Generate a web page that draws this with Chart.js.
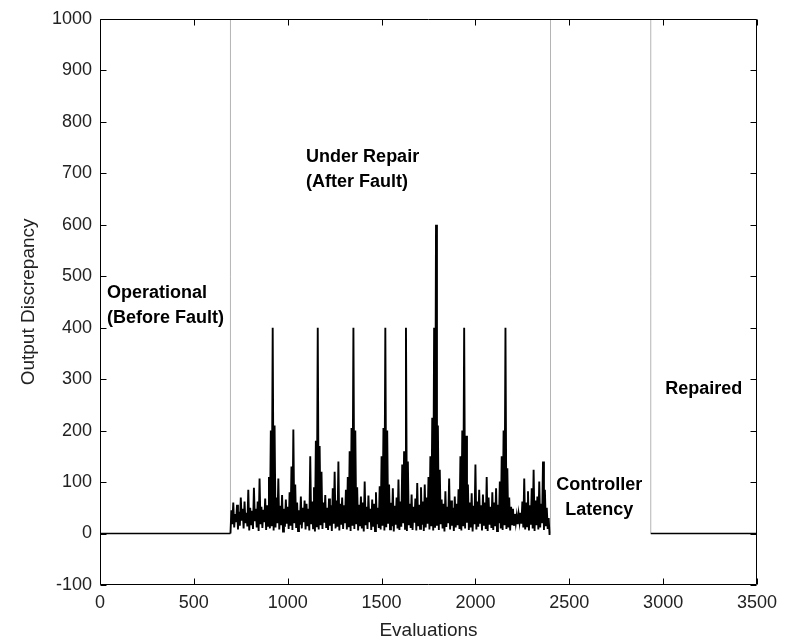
<!DOCTYPE html>
<html>
<head>
<meta charset="utf-8">
<script src="https://cdn.jsdelivr.net/npm/chart.js@4.4.1/dist/chart.umd.min.js"></script>
<style>
body { margin: 0; background: #fff; }
canvas { display: block; }
</style>
</head>
<body>
<canvas id="lineChart" width="790" height="642"></canvas>
<script>
// evaluations where the phases change
var faultAt = 695
var repairStart = 700
var binWidth = 10
var latencyAt = 2400
var repairedAt = 2934
var lastEval = 3500
var phaseBounds = [faultAt, latencyAt, repairedAt]

// under repair: per 10 evaluations, the high then the low discrepancy
var repairHigh = [
  45, 60, 38, 56, 42, 70, 48, 62, 40, 85,
  50, 44, 89, 48, 62, 107, 52, 46, 68, 55,
  110, 200, 400, 210, 70, 107, 54, 75, 48, 66,
  52, 80, 130, 202, 95, 60, 45, 72, 50, 64,
  58, 48, 150, 62, 90, 180, 400, 170, 120, 60,
  75, 50, 68, 55, 88, 120, 64, 140, 58, 70,
  55, 85, 110, 160, 205, 400, 200, 90, 56, 72,
  60, 101, 52, 74, 48, 66, 58, 80, 50, 92,
  150, 205, 400, 200, 95, 60, 88, 54, 70, 105,
  62, 134, 160, 400, 140, 58, 76, 52, 68, 98,
  56, 90, 62, 95, 70, 110, 150, 225, 400, 600,
  210, 124, 66, 58, 82, 52, 107, 64, 50, 72,
  58, 86, 150, 200, 400, 190, 95, 60, 78, 54,
  134, 62, 85, 55, 76, 60, 110, 70, 52, 80,
  60, 88, 56, 101, 150, 200, 400, 127, 70, 52,
  48, 38, 35, 38, 40, 62, 107, 60, 82, 55,
  88, 124, 64, 72, 101, 58, 140, 85, 50, 30
]
var repairLow = [
  18, 12, 22, 8, 15, 25, 10, 20, 14, 6,
  16, 9, 24, 12, 5, 18, 11, 22, 7, 15,
  10, 14, 6, 12, 20, 8, 16, 4, 13, 19,
  9, 15, 7, 20, 11, 5, 17, 10, 22, 8,
  14, 6, 18, 10, 4, 12, 8, 16, 9, 21,
  11, 7, 15, 5, 19, 10, 13, 6, 17, 9,
  20, 8, 12, 5, 15, 9, 18, 6, 14, 10,
  4, 16, 9, 22, 7, 13, 5, 18, 11, 8,
  15, 6, 12, 19, 8, 14, 4, 17, 10, 7,
  13, 20, 9, 5, 16, 11, 7, 21, 6, 14,
  9, 17, 5, 12, 19, 8, 14, 6, 11, 15,
  7, 18, 10, 4, 13, 20, 8, 15, 5, 12,
  16, 9, 6, 14, 10, 21, 7, 12, 4, 18,
  8, 13, 19, 6, 15, 9, 5, 17, 11, 7,
  14, 5, 20, 10, 7, 16, 9, 12, 6, 18,
  15, 20, 18, 22, 19, 12, 8, 14, 6, 17,
  10, 5, 16, 8, 12, 20, 7, 14, 9, -3
]

var yMin = -100
var yMax = 1000
var yStep = 100
var xStep = 500

// text notes, placed in data units
var notes = [
  { lines: ["Operational", "(Before Fault)"], x: 37, y: 468, align: "left" },
  { lines: ["Under Repair", "(After Fault)"], x: 1098, y: 732, align: "left" },
  { lines: ["Controller", "Latency"], x: 2660, y: 95, align: "center" },
  { lines: ["Repaired"], x: 3011, y: 280, align: "left" }
]

// build the points
var beforePts = [{ x: 0, y: 0 }, { x: faultAt, y: 0 }]
var repairPts = [{ x: faultAt, y: 0 }]
for (var i = 0; i < repairHigh.length; i++) {
  repairPts.push({ x: repairStart + i * binWidth, y: repairHigh[i] })
  repairPts.push({ x: repairStart + i * binWidth + binWidth / 2, y: repairLow[i] })
}
var afterPts = [{ x: repairedAt, y: 0 }, { x: lastEval, y: 0 }]

var datasets = [
  { data: repairPts, borderColor: "#000", borderWidth: 1.9 },
  { data: beforePts, borderColor: "#000", borderWidth: 1.5 },
  { data: afterPts, borderColor: "#000", borderWidth: 1.5 }
]
phaseBounds.forEach(function (b) {
  datasets.push({ data: [{ x: b, y: 0 }, { x: b, y: yMax }], borderColor: "#b4b4b4", borderWidth: 1 })
})
datasets.forEach(function (d) {
  d.showLine = true
  d.pointRadius = 0
  d.fill = false
  d.tension = 0
})

// matlab style box with inward ticks
var boxPlugin = {
  id: "boxPlugin",
  afterDatasetsDraw: function (chart) {
    var c = chart.ctx
    var a = chart.chartArea
    var xs = chart.scales.x
    var ys = chart.scales.y
    var L = Math.round(a.left) + 0.5, R = Math.round(a.right) - 0.5
    var T = Math.round(a.top) + 0.5, B = Math.round(a.bottom) - 0.5
    c.save()
    c.strokeStyle = "#000"
    c.lineWidth = 1
    c.beginPath()
    c.rect(L, T, R - L, B - T)
    xs.ticks.forEach(function (t) {
      var px = Math.round(xs.getPixelForValue(t.value)) + 0.5
      c.moveTo(px, B); c.lineTo(px, B - 6)
      c.moveTo(px, T); c.lineTo(px, T + 6)
    })
    ys.ticks.forEach(function (t) {
      var py = Math.round(ys.getPixelForValue(t.value)) + 0.5
      c.moveTo(L, py); c.lineTo(L + 6, py)
      c.moveTo(R, py); c.lineTo(R - 6, py)
    })
    c.stroke()

    c.fillStyle = "#000"
    c.font = "bold 18px 'Liberation Sans', Arial, sans-serif"
    c.textBaseline = "middle"
    notes.forEach(function (n) {
      c.textAlign = n.align
      var px = xs.getPixelForValue(n.x)
      var py = ys.getPixelForValue(n.y)
      n.lines.forEach(function (s, k) {
        c.fillText(s, px, py + k * 25)
      })
    })
    c.restore()
  }
}

var tickFont = { family: "'Liberation Sans', Arial, sans-serif", size: 18 }
var titleFont = { family: "'Liberation Sans', Arial, sans-serif", size: 19 }
var plainNum = function (v) { return String(v) }

var ctx = document.getElementById("lineChart")
var chart_line = new Chart(ctx, {
  type: "scatter",
  plugins: [boxPlugin],
  data: { datasets: datasets },
  options: {
    responsive: false,
    animation: false,
    layout: { padding: { left: 0, right: 33, top: 17, bottom: 0 } },
    plugins: {
      legend: { display: false },
      tooltip: { enabled: false }
    },
    scales: {
      x: {
        type: "linear",
        min: 0,
        max: lastEval,
        grid: { display: false, drawTicks: false },
        border: { display: false },
        ticks: { stepSize: xStep, padding: 7, color: "#222", font: tickFont, maxRotation: 0, callback: plainNum },
        title: { display: true, text: "Evaluations", color: "#222", font: titleFont, padding: 0 },
        afterFit: function (s) { s.height = 57 }
      },
      y: {
        min: yMin,
        max: yMax,
        grid: { display: false, drawTicks: false },
        border: { display: false },
        ticks: { stepSize: yStep, padding: 8, color: "#222", font: tickFont, callback: plainNum },
        title: { display: true, text: "Output Discrepancy", color: "#222", font: titleFont, padding: { top: 17, bottom: 0 } },
        afterFit: function (s) { s.width = 100 }
      }
    }
  }
})
</script>
</body>
</html>
